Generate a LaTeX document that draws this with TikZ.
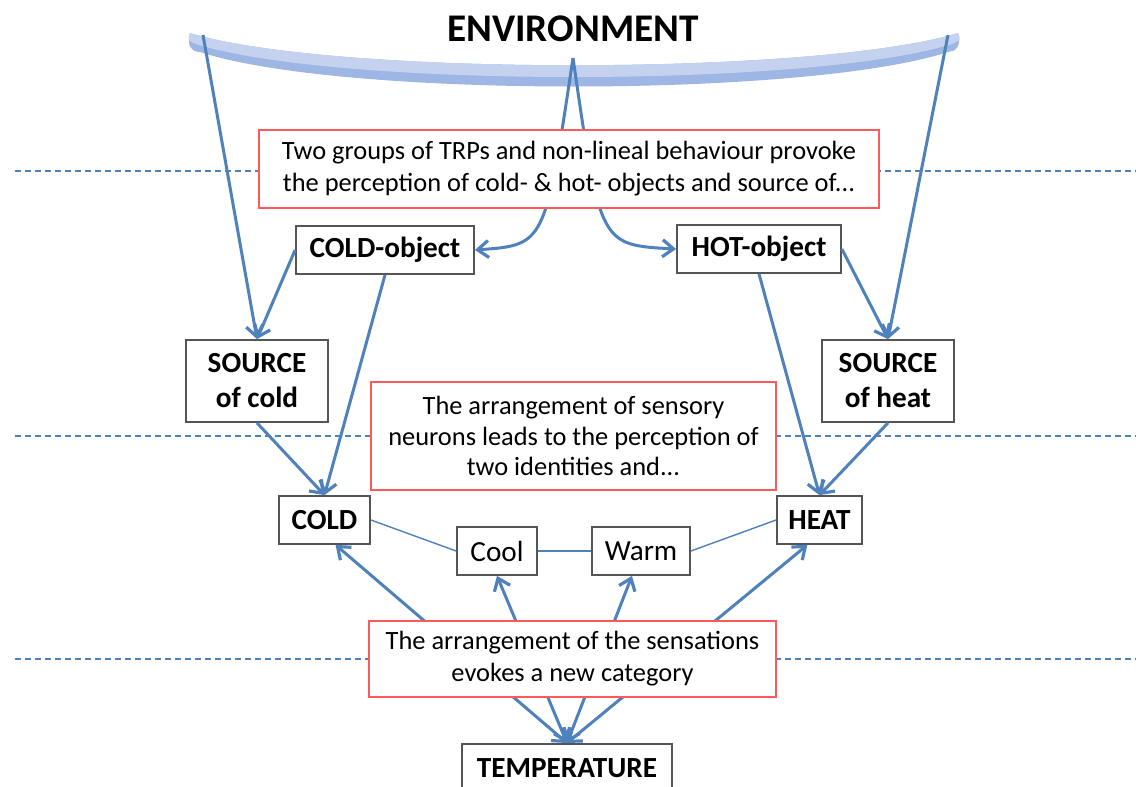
\documentclass[tikz,border=0pt]{standalone}
\usepackage{fontspec}
\setmainfont{Carlito}
\usetikzlibrary{arrows.meta}
\definecolor{lineblue}{RGB}{79,129,189}
\definecolor{boxred}{RGB}{255,90,90}
\definecolor{boxgray}{RGB}{85,85,85}

\begin{document}
\begin{tikzpicture}[x=0.5pt,y=0.5pt,yscale=-1,xscale=1,
  blk/.style={draw=boxgray, line width=0.9pt, fill=white, align=center, inner sep=0pt,
    font=\fontsize{14.6}{17.5}\selectfont\bfseries},
  plain/.style={draw=boxgray, line width=0.9pt, fill=white, inner sep=0pt,
    font=\fontsize{14.6}{17}\selectfont},
  note/.style={draw=boxred, line width=0.7pt, fill=white, align=center, inner sep=0pt,
    font=\fontsize{13.2}{16}\selectfont},
  arr/.style={draw=lineblue, line width=1.5pt, -{Straight Barb[length=5.5pt,width=8.5pt,line width=1.6pt]}},
  both/.style={{Straight Barb[length=5.5pt,width=8.5pt,line width=1.6pt]}-{Straight Barb[length=5.5pt,width=8.5pt,line width=1.6pt]}},
  link/.style={draw=lineblue, line width=0.7pt},
  guide/.style={draw=lineblue, line width=0.7pt, dash pattern={on 3pt off 2pt}}]
\useasboundingbox (0,0) rectangle (1136,787);

%Shape: Band
\fill [color={rgb,255:red,158;green,182;blue,228}] (190,33) .. controls (330,76) and (816,76) .. (958,33) .. controls (962,46) and (955,52) .. (948,52) .. controls (806,98) and (340,98) .. (200,52) .. controls (192,52) and (186,45) .. (190,33) -- cycle ;
\fill [color={rgb,255:red,196;green,210;blue,239}] (190,33) .. controls (330,76) and (816,76) .. (958,33) .. controls (961,40) .. (952,44) .. controls (810,88) and (336,88) .. (196,44) .. controls (188,41) .. (190,33) -- cycle ;
\node (env) at (573,29) {\fontsize{19.6}{22}\selectfont\bfseries ENVIRONMENT};
\coordinate (envL) at (203,35);
\coordinate (envC) at (573,58);
\coordinate (envR) at (948,35);

%Straight Lines
\draw [guide] (15,171) -- (1136,171) ;
\draw [guide] (15,436) -- (1136,436) ;
\draw [guide] (15,659) -- (1136,659) ;

%Shape: Rectangle
\node [blk, minimum width=89pt, minimum height=24pt] (cobj) at (385,250) {COLD-object};
\node [blk, minimum width=82pt, minimum height=24pt] (hobj) at (759,249) {HOT-object};
\node [blk, minimum width=71pt, minimum height=41pt] (srcc) at (257,381) {SOURCE\\of cold};
\node [blk, minimum width=66pt, minimum height=41pt] (srch) at (888,381) {SOURCE\\of heat};
\node [blk, minimum width=45.5pt, minimum height=24pt] (cold) at (324.5,520) {COLD};
\node [blk, minimum width=42.5pt, minimum height=24pt] (heat) at (819.5,520) {HEAT};
\node [plain, minimum width=40pt, minimum height=24pt] (cool) at (497,551) {Cool};
\node [plain, minimum width=49pt, minimum height=24pt] (warm) at (641,551) {Warm};
\node [blk, minimum width=105pt, minimum height=24pt, anchor=north] (temp) at (567,743) {TEMPERATURE};

%Curve Lines
\draw [arr] (envC) .. controls (545,245) .. (cobj.east) ;
\draw [arr] (envC) .. controls (600,245) .. (hobj.west) ;
\draw [arr] (envL) -- (srcc.north) ;
\draw [arr] (envR) -- (srch.north) ;
\draw [arr] (cobj.west) -- (srcc.north) ;
\draw [arr] (hobj.east) -- (srch.north) ;
\draw [arr] (cobj.south) -- (cold.north) ;
\draw [arr] (srcc.south) -- (cold.north) ;
\draw [arr] (hobj.south) -- (heat.north) ;
\draw [arr] (srch.south) -- (heat.north) ;
\draw [link] (cold.east) -- (cool.west) ;
\draw [link, line width=1.2pt] (cool.east) -- (warm.west) ;
\draw [link] (warm.east) -- (heat.west) ;
\draw [arr, both] (temp.north) -- (cold.-66) ;
\draw [arr, both] (temp.north) -- (cool.south) ;
\draw [arr, both] (temp.north) -- (warm.-110) ;
\draw [arr, both] (temp.north) -- (heat.-116) ;

%Shape: Text boxes
\node [note, minimum width=310pt, minimum height=39pt] (trp) at (569,169) {Two groups of TRPs and non-lineal behaviour provoke\\the perception of cold- \& hot- objects and source of...};
\node [note, minimum width=202.5pt, minimum height=54pt, font=\fontsize{13.2}{15.3}\selectfont] (neur) at (573.5,436) {The arrangement of sensory\\neurons leads to the perception of\\two identities and...};
\node [note, minimum width=203.5pt, minimum height=38pt] (sens) at (572.5,659) {The arrangement of the sensations\\evokes a new category};

\end{tikzpicture}
\end{document}
